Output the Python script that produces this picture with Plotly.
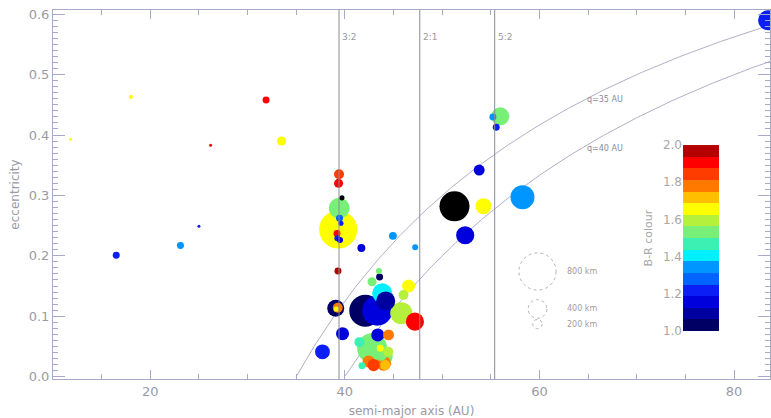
import numpy as np
import plotly.graph_objects as go

# ---------------- data ----------------
# semi-major axis (AU), eccentricity, diameter (km), B-R colour (None = no colour, drawn black)
semi_major = [11.8, 18.0, 16.5, 23.1, 25.0, 26.2, 31.9, 33.5, 37.7, 39.4,
              39.35, 39.7, 39.42, 39.32, 39.45, 39.6, 39.19, 39.23, 39.5, 41.7,
              44.94, 47.23, 39.29, 43.5, 43.57, 42.79, 43.84, 42.1, 43.33, 44.2,
              46.55, 46.03, 45.8, 47.2, 39.06, 39.27, 39.12, 39.76, 43.38, 44.49,
              42.8, 43.9, 43.64, 44.46, 43.74, 42.44, 42.95, 41.76, 43.98, 44.15,
              41.5, 55.97, 55.22, 55.56, 53.81, 51.27, 54.25, 52.37, 58.26, 83.5]
eccentricity = [0.393, 0.463, 0.201, 0.217, 0.249, 0.383, 0.458, 0.390, 0.041, 0.335,
                0.320, 0.296, 0.279, 0.2435, 0.262, 0.254, 0.237, 0.229, 0.226, 0.213,
                0.233, 0.214, 0.175, 0.175, 0.165, 0.157, 0.138, 0.109, 0.109, 0.125,
                0.150, 0.135, 0.105, 0.091, 0.113, 0.114, 0.112, 0.071, 0.069, 0.069,
                0.047, 0.034, 0.047, 0.041, 0.036, 0.025, 0.019, 0.018, 0.022, 0.019,
                0.057, 0.431, 0.430, 0.413, 0.342, 0.282, 0.282, 0.234, 0.297, 0.590]
diameter_km = [65, 85, 150, 150, 65, 65, 150, 195, 320, 215,
               195, 110, 450, 820, 150, 110, 150, 130, 130, 170,
               170, 130, 150, 130, 150, 195, 430, 690, 645, 410,
               280, 215, 475, 390, 365, 215, 110, 280, 280, 235,
               645, 430, 150, 215, 260, 260, 260, 150, 320, 215,
               215, 390, 150, 150, 235, 645, 345, 390, 515, 430]
br_colour = [1.66, 1.66, 1.22, 1.34, 1.22, 1.90, 1.90, 1.66, 1.20, 1.84,
             1.90, None, 1.50, 1.66, 1.28, 1.22, 1.90, 1.22, 1.16, 1.16,
             1.34, 1.34, 1.97, 1.53, 1.03, 1.53, 1.41, 1.03, 1.16, 1.09,
             1.66, 1.59, 1.59, 1.90, 1.03, 1.78, 1.66, 1.16, 1.16, 1.78,
             1.55, 1.53, 1.66, 1.59, 1.53, 1.78, 1.84, 1.47, 1.78, 1.69,
             1.47, 1.55, 1.34, 1.22, 1.16, None, 1.66, 1.16, 1.34, 1.22]

# resonances
res_names = ["3:2", "2:1", "5:2"]
res_a = [39.4, 47.7, 55.4]

# perihelion curves
q_values = [35, 40]
q_labels = ["q=35 AU", "q=40 AU"]
q_label_pos = [(64.7, 0.458), (64.7, 0.377)]

# size legend
legend_km = [800, 400, 200]
legend_labels = ["800 km", "400 km", "200 km"]
legend_e = [0.174, 0.112, 0.087]
legend_a = 59.8
legend_label_a = 62.6

# colour table (16 bands, B-R 1.0 .. 2.0)
band_colours = ["#000064", "#0000a0", "#0000dc", "#0a1ef5", "#0064ff", "#0096ff",
                "#00f0ff", "#3cf0b4", "#78f078", "#b4f03c", "#ffff00", "#ffbe00",
                "#ff7800", "#ff3c00", "#ff0000", "#b40000"]
cb_ticks = [1.0, 1.2, 1.4, 1.6, 1.8, 2.0]

# ---------------- figure ----------------
KM2PX = 0.0465  # marker diameter in px per km
GRAY = "#9a9aa6"
AXC = "#a8a8c8"
FONT = "DejaVu Sans"

nb = len(band_colours)
colorscale = []
for i, c in enumerate(band_colours):
    colorscale.append([i / nb, c])
    colorscale.append([(i + 1) / nb, c])

fig = go.Figure()

# q curves
for q in q_values:
    a = np.linspace(q, 90, 300)
    fig.add_trace(go.Scatter(x=a, y=1 - q / a, mode="lines",
                             line=dict(color="#b0b0c8", width=1),
                             hoverinfo="skip", showlegend=False))

# coloured objects, big ones first
idx = sorted([i for i in range(len(semi_major)) if br_colour[i] is not None],
             key=lambda i: -diameter_km[i])
fig.add_trace(go.Scatter(
    x=[semi_major[i] for i in idx], y=[eccentricity[i] for i in idx], mode="markers",
    marker=dict(size=[diameter_km[i] * KM2PX for i in idx],
                color=[br_colour[i] for i in idx], coloraxis="coloraxis",
                line=dict(width=0), opacity=1),
    showlegend=False))

# objects without colour (black)
bidx = [i for i in range(len(semi_major)) if br_colour[i] is None]
fig.add_trace(go.Scatter(
    x=[semi_major[i] for i in bidx], y=[eccentricity[i] for i in bidx], mode="markers",
    marker=dict(size=[diameter_km[i] * KM2PX for i in bidx], color="black",
                line=dict(width=0), opacity=1),
    showlegend=False))

# size legend (dotted circles of pixel size anchored at data positions)
for k, lab, e in zip(legend_km, legend_labels, legend_e):
    r = k * KM2PX / 2
    fig.add_shape(type="circle", xref="x", yref="y", xsizemode="pixel", ysizemode="pixel",
                  xanchor=legend_a, yanchor=e, x0=-r, x1=r, y0=-r, y1=r,
                  line=dict(color="#b4b4b4", width=1, dash="dot"))
    fig.add_annotation(x=legend_label_a, y=e, text=lab, showarrow=False, xanchor="left",
                       font=dict(family=FONT, size=8, color="#a0a0a0"))

# resonance lines
for name, a in zip(res_names, res_a):
    fig.add_shape(type="line", x0=a, x1=a, y0=0, y1=1, xref="x", yref="paper",
                  line=dict(color="#8c8c98", width=1))
    fig.add_annotation(x=a, y=0.562, text=name, showarrow=False, xanchor="left", xshift=1,
                       font=dict(family=FONT, size=9, color="#9a9aa0"))

for lab, (a, e) in zip(q_labels, q_label_pos):
    fig.add_annotation(x=a, y=e, text=lab, showarrow=False, xanchor="left",
                       font=dict(family=FONT, size=8, color="#8a8a9a"))

# colour bar drawn as a heatmap on an inset axis
edges = np.linspace(1.0, 2.0, nb + 1)
centres = (edges[:-1] + edges[1:]) / 2
fig.add_trace(go.Heatmap(z=[[c] for c in centres], x=[-0.5, 0.5], y=list(edges),
                         coloraxis="coloraxis", xaxis="x2", yaxis="y2",
                         hoverinfo="skip"))

fig.update_layout(
    width=771, height=418,
    margin=dict(l=53, r=1, t=10, b=39),
    paper_bgcolor="white", plot_bgcolor="white",
    coloraxis=dict(colorscale=colorscale, cmin=1.0, cmax=2.0, showscale=False),
    xaxis=dict(range=[10, 83.7], showgrid=False, zeroline=False, automargin=False,
               showline=True, linecolor=AXC, linewidth=1, mirror="allticks",
               ticks="inside", ticklen=9, tickcolor=AXC, dtick=20, tick0=0,
               minor=dict(ticks="inside", ticklen=5, dtick=5, tickcolor=AXC),
               tickfont=dict(family=FONT, size=13, color=GRAY),
               title=dict(text="semi-major axis (AU)", standoff=9,
                          font=dict(family=FONT, size=12, color=GRAY))),
    yaxis=dict(range=[-0.004, 0.607], showgrid=False, zeroline=False, automargin=False,
               showline=True, linecolor=AXC, linewidth=1, mirror="allticks",
               ticks="inside", ticklen=12, tickcolor=AXC, dtick=0.1, tick0=0,
               tickformat=".1f",
               minor=dict(ticks="inside", ticklen=5, dtick=0.01, tickcolor=AXC),
               tickfont=dict(family=FONT, size=13, color=GRAY),
               title=dict(text="eccentricity", standoff=6,
                          font=dict(family=FONT, size=12, color=GRAY))),
    xaxis2=dict(domain=[0.8787, 0.9289], anchor="y2", range=[-0.5, 0.5],
                showticklabels=False, showline=False, showgrid=False, zeroline=False,
                ticks="", fixedrange=True, automargin=False),
    yaxis2=dict(domain=[0.130, 0.634], anchor="x2", range=[1.0, 2.0], showgrid=False,
                zeroline=False, showline=False, tickvals=cb_ticks, tickformat=".1f",
                ticks="", automargin=False, fixedrange=True,
                tickfont=dict(family=FONT, size=12, color="#a8a8a8"),
                title=dict(text="B-R colour", standoff=8,
                           font=dict(family=FONT, size=11, color="#a8a8a8"))),
)

fig.write_html("out.html", config={"displayModeBar": False},
               post_script="document.body.style.margin='0';")
